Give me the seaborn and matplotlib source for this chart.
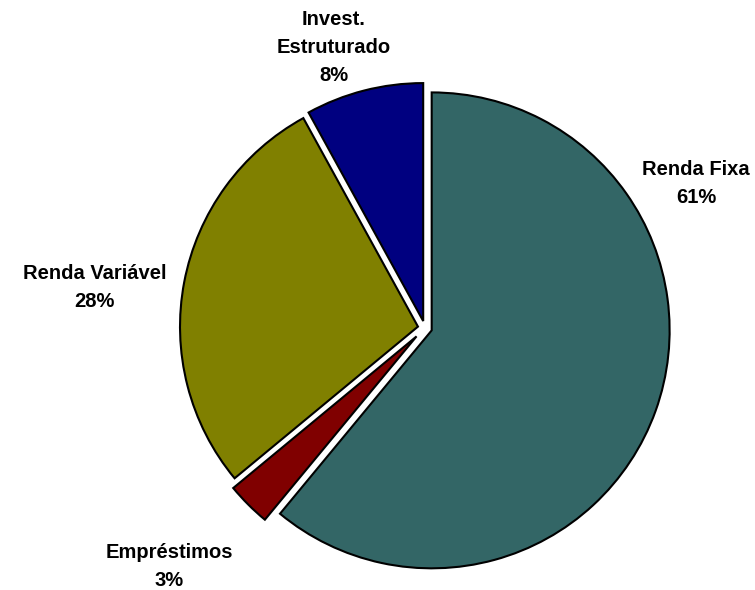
import matplotlib
matplotlib.use("Agg")
import matplotlib.pyplot as plt
import numpy as np
import seaborn as sns

# data
categories = ["Renda Fixa", "Empréstimos", "Renda Variável", "Invest.\nEstruturado"]
shares = [61, 3, 28, 8]
colors = ["#336666", "#800000", "#808000", "#000080"]

# label placement (radius, angle in degrees) around the pie
label_radius = [1.29, 1.47, 1.40, 1.24]
label_angle = [28, -137, 173, 108]

sns.set_theme(style="white")
plt.rcParams["font.family"] = ["Liberation Sans", "DejaVu Sans"]

fig = plt.figure(figsize=(7.55, 5.9), dpi=100)
ax = fig.add_axes([0, 0, 1, 1])

wedges, _ = ax.pie(
    shares,
    colors=sns.color_palette(colors),
    startangle=90,
    counterclock=False,
    explode=[0.03, 0.05, 0.03, 0.03],
    wedgeprops=dict(edgecolor="black", linewidth=1.5),
)

for cat, val, r, a in zip(categories, shares, label_radius, label_angle):
    t = np.deg2rad(a)
    ax.text(r * np.cos(t), r * np.sin(t), f"{cat}\n{val}%",
            ha="center", va="center", fontsize=14.5, fontweight="bold",
            linespacing=1.6, color="black")

ax.set_xlim(-1.786, 1.387)
ax.set_ylim(-1.101, 1.378)
ax.set_aspect("equal")
ax.axis("off")

fig.savefig("out.png", dpi=100)
